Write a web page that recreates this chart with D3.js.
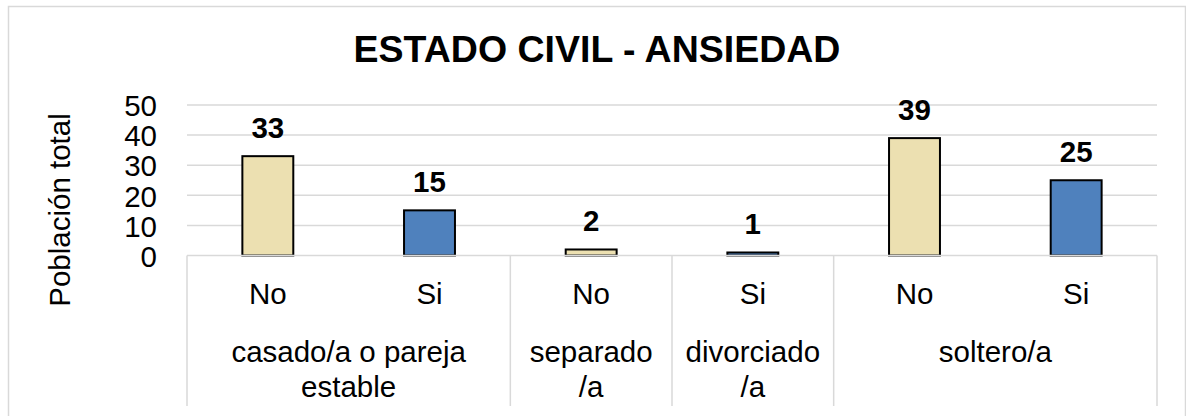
<!DOCTYPE html>
<html>
<head>
<meta charset="utf-8">
<script src="https://cdn.jsdelivr.net/npm/d3@7"></script>
<style>
  body { margin: 0; background: #fff; }
  svg { display: block; font-family: "Liberation Sans", Arial, sans-serif; }
</style>
</head>
<body>
<svg></svg>
<script>
// datos
const subLabels = ['No', 'Si', 'No', 'Si', 'No', 'Si'];
const values = [33, 15, 2, 1, 39, 25];
const groupLabels = [['casado/a o pareja', 'estable'], ['separado', '/a'], ['divorciado', '/a'], ['soltero/a']];
const groupSizes = [2, 1, 1, 2];
const yTicks = [0, 10, 20, 30, 40, 50];

const svgWidth = 1186;
const svgHeight = 416;
const plot = { left: 187, right: 1157, top: 105, bottom: 255.5 };
const axisBottom = 406;

const colors = { No: '#ECE0B1', Si: '#4F81BD' };

const svg = d3.select('svg')
    .attr('width', svgWidth)
    .attr('height', svgHeight);

// marco del gráfico
svg.append('rect')
    .attr('x', 8.5)
    .attr('y', 6.5)
    .attr('width', 1177)
    .attr('height', 430)
    .attr('fill', '#fff')
    .attr('stroke', '#D9D9D9')
    .attr('stroke-width', 1.5);

const idx = d3.range(values.length);

const xScale = d3.scaleBand()
    .domain(idx)
    .range([plot.left, plot.right])
    .paddingInner(0.685)
    .paddingOuter(0.3425);

const slot = d3.scaleBand()
    .domain(idx)
    .range([plot.left, plot.right])
    .padding(0);

const yScale = d3.scaleLinear()
    .domain([0, 50])
    .range([plot.bottom, plot.top]);

// líneas de cuadrícula
svg.append('g')
    .selectAll('line')
    .data(yTicks.filter(d => d > 0))
    .enter().append('line')
    .attr('x1', plot.left)
    .attr('x2', plot.right)
    .attr('y1', d => yScale(d))
    .attr('y2', d => yScale(d))
    .attr('stroke', '#D9D9D9')
    .attr('stroke-width', 1.5);

// etiquetas del eje Y
svg.append('g')
    .selectAll('text')
    .data(yTicks)
    .enter().append('text')
    .attr('x', 157)
    .attr('y', d => yScale(d))
    .attr('dy', '0.38em')
    .attr('text-anchor', 'end')
    .attr('font-size', '29.5px')
    .attr('fill', '#000')
    .text(d => d);

// título eje Y
svg.append('text')
    .attr('transform', 'translate(70, 210) rotate(-90)')
    .attr('text-anchor', 'middle')
    .attr('font-size', '29.5px')
    .attr('fill', '#000')
    .text('Población total');

// barras
svg.append('g')
    .selectAll('rect')
    .data(idx)
    .enter().append('rect')
    .attr('x', i => xScale(i))
    .attr('y', i => yScale(values[i]))
    .attr('width', xScale.bandwidth())
    .attr('height', i => yScale(0) - yScale(values[i]))
    .attr('fill', i => colors[subLabels[i]])
    .attr('stroke', '#000')
    .attr('stroke-width', 2);

// etiquetas de datos
svg.append('g')
    .selectAll('text')
    .data(idx)
    .enter().append('text')
    .attr('x', i => xScale(i) + xScale.bandwidth() / 2)
    .attr('y', i => yScale(values[i]) - 18.5)
    .attr('text-anchor', 'middle')
    .attr('font-size', '29.5px')
    .attr('font-weight', 'bold')
    .attr('fill', '#000')
    .text(i => values[i]);

// eje X de dos niveles
const axis = svg.append('g');

axis.append('line')
    .attr('x1', plot.left)
    .attr('x2', plot.right)
    .attr('y1', plot.bottom)
    .attr('y2', plot.bottom)
    .attr('stroke', '#D9D9D9')
    .attr('stroke-width', 1.5);

const groupStart = [];
groupSizes.reduce((acc, n) => { groupStart.push(acc); return acc + n; }, 0);
const edges = groupStart.map(s => slot(s)).concat([plot.right]);

axis.selectAll('.sep')
    .data(edges)
    .enter().append('line')
    .attr('class', 'sep')
    .attr('x1', d => d)
    .attr('x2', d => d)
    .attr('y1', plot.bottom)
    .attr('y2', axisBottom)
    .attr('stroke', '#D9D9D9')
    .attr('stroke-width', 1.5);

axis.selectAll('.sub')
    .data(idx)
    .enter().append('text')
    .attr('class', 'sub')
    .attr('x', i => slot(i) + slot.bandwidth() / 2)
    .attr('y', 304)
    .attr('text-anchor', 'middle')
    .attr('font-size', '29.5px')
    .attr('fill', '#000')
    .text(i => subLabels[i]);

groupLabels.forEach((lines, g) => {
    const x0 = edges[g];
    const x1 = edges[g + 1];
    const t = axis.append('text')
        .attr('x', (x0 + x1) / 2)
        .attr('y', 361.5)
        .attr('text-anchor', 'middle')
        .attr('font-size', '29.5px')
        .attr('fill', '#000');
    lines.forEach((line, k) => {
        t.append('tspan')
            .attr('x', (x0 + x1) / 2)
            .attr('dy', k === 0 ? 0 : 35)
            .text(line);
    });
});

// título
svg.append('text')
    .attr('x', 597)
    .attr('y', 62)
    .attr('text-anchor', 'middle')
    .attr('font-size', '37.5px')
    .attr('font-weight', 'bold')
    .attr('fill', '#000')
    .text('ESTADO CIVIL - ANSIEDAD');
</script>
</body>
</html>
